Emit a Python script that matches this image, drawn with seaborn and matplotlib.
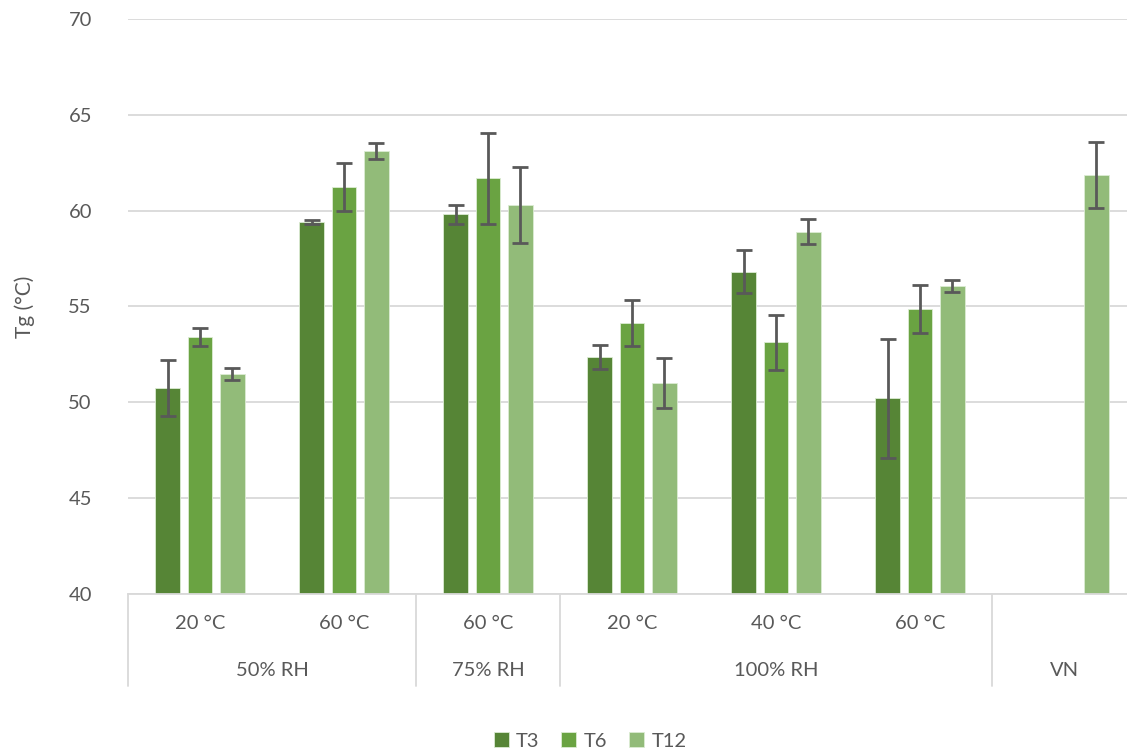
import pandas as pd
import seaborn as sns
import matplotlib.pyplot as plt
from matplotlib.transforms import blended_transform_factory

# Data
conditions = ["20 °C", "60 °C", "60 °C ", "20 °C  ", "40 °C", "60 °C   ", "VN"]
temp_labels = ["20 °C", "60 °C", "60 °C", "20 °C", "40 °C", "60 °C", ""]
groups = ["50% RH", "75% RH", "100% RH", "VN"]
group_centers = [0.5, 2, 4, 6]
separators = [-0.5, 1.5, 2.5, 5.5]
series = ["T3", "T6", "T12"]

t3 = [50.75, 59.40, 59.82, 52.35, 56.81, 50.20, None]
t6 = [53.41, 61.23, 61.70, 54.15, 53.13, 54.87, None]
t12 = [51.48, 63.11, 60.29, 51.00, 58.90, 56.08, 61.86]
t3_err = [1.45, 0.10, 0.50, 0.63, 1.12, 3.10, None]
t6_err = [0.47, 1.25, 2.37, 1.20, 1.45, 1.27, None]
t12_err = [0.29, 0.40, 2.00, 1.32, 0.66, 0.32, 1.72]

colors = ["#568536", "#6aa342", "#92bb79"]

# long table for seaborn
rows = []
for name, vals, errs in zip(series, [t3, t6, t12], [t3_err, t6_err, t12_err]):
    for cond, v, e in zip(conditions, vals, errs):
        if v is not None:
            rows.append({"condition": cond, "series": name, "Tg": v, "err": e})
df = pd.DataFrame(rows)

sns.set_style("white")
plt.rcParams["font.family"] = ["Lato", "DejaVu Sans"]

fig = plt.figure(figsize=(11.27, 7.51), dpi=100)
ax = fig.add_axes([128 / 1127, 1 - 594 / 751, (1136 - 128) / 1127, (594 - 19) / 751])

sns.barplot(data=df, x="condition", y="Tg", hue="series", order=conditions,
            hue_order=series, palette=colors, saturation=1, width=0.667, gap=0.22,
            errorbar=None, edgecolor="#dcecd3", linewidth=0.6, ax=ax, legend=True)

# error bars on top of each bar
for cont, name in zip(ax.containers, series):
    sub = df[df["series"] == name].set_index("condition").reindex(
        [c for c in conditions if c in set(df[df["series"] == name]["condition"])])
    xs = [p.get_x() + p.get_width() / 2 for p in cont.patches]
    ax.errorbar(xs, sub["Tg"].values, yerr=sub["err"].values, fmt="none",
                ecolor="#595959", elinewidth=2, capsize=6, capthick=2, zorder=5)

ax.set_ylim(40, 70)
ax.set_yticks(range(40, 71, 5))
ax.set_xlim(-0.5, 6.5)
ax.yaxis.grid(True, color="#d9d9d9", linewidth=1.3)
ax.set_axisbelow(True)
for s in ["left", "right", "top"]:
    ax.spines[s].set_visible(False)
ax.spines["bottom"].set_color("#d9d9d9")
ax.spines["bottom"].set_linewidth(1.3)

ax.tick_params(axis="y", length=0, pad=26, labelsize=14.5, labelcolor="#595959")
ax.set_xticks(range(len(conditions)))
ax.set_xticklabels(temp_labels)
ax.tick_params(axis="x", length=0, pad=15, labelsize=14.5, labelcolor="#595959")
ax.set_xlabel("")
ax.set_ylabel("Tg (°C)", fontsize=15, color="#595959", labelpad=24)

# second level of category axis
trans = blended_transform_factory(ax.transData, fig.transFigure)
for g, c in zip(groups, group_centers):
    ax.text(c, 1 - 671 / 751, g, transform=trans, ha="center", va="center",
            fontsize=14.5, color="#595959")
for s in separators:
    ax.plot([s, s], [1 - 594 / 751, 1 - 686 / 751], transform=trans,
            color="#d9d9d9", linewidth=1.3, clip_on=False)

ax.legend(loc="center", bbox_to_anchor=(590 / 1127, 1 - 741 / 751),
          bbox_transform=fig.transFigure, ncol=3, frameon=False,
          fontsize=14.5, handlelength=0.75, handleheight=0.75,
          handletextpad=0.35, columnspacing=1.1, labelcolor="#595959")

fig.savefig("out.png", dpi=100)
